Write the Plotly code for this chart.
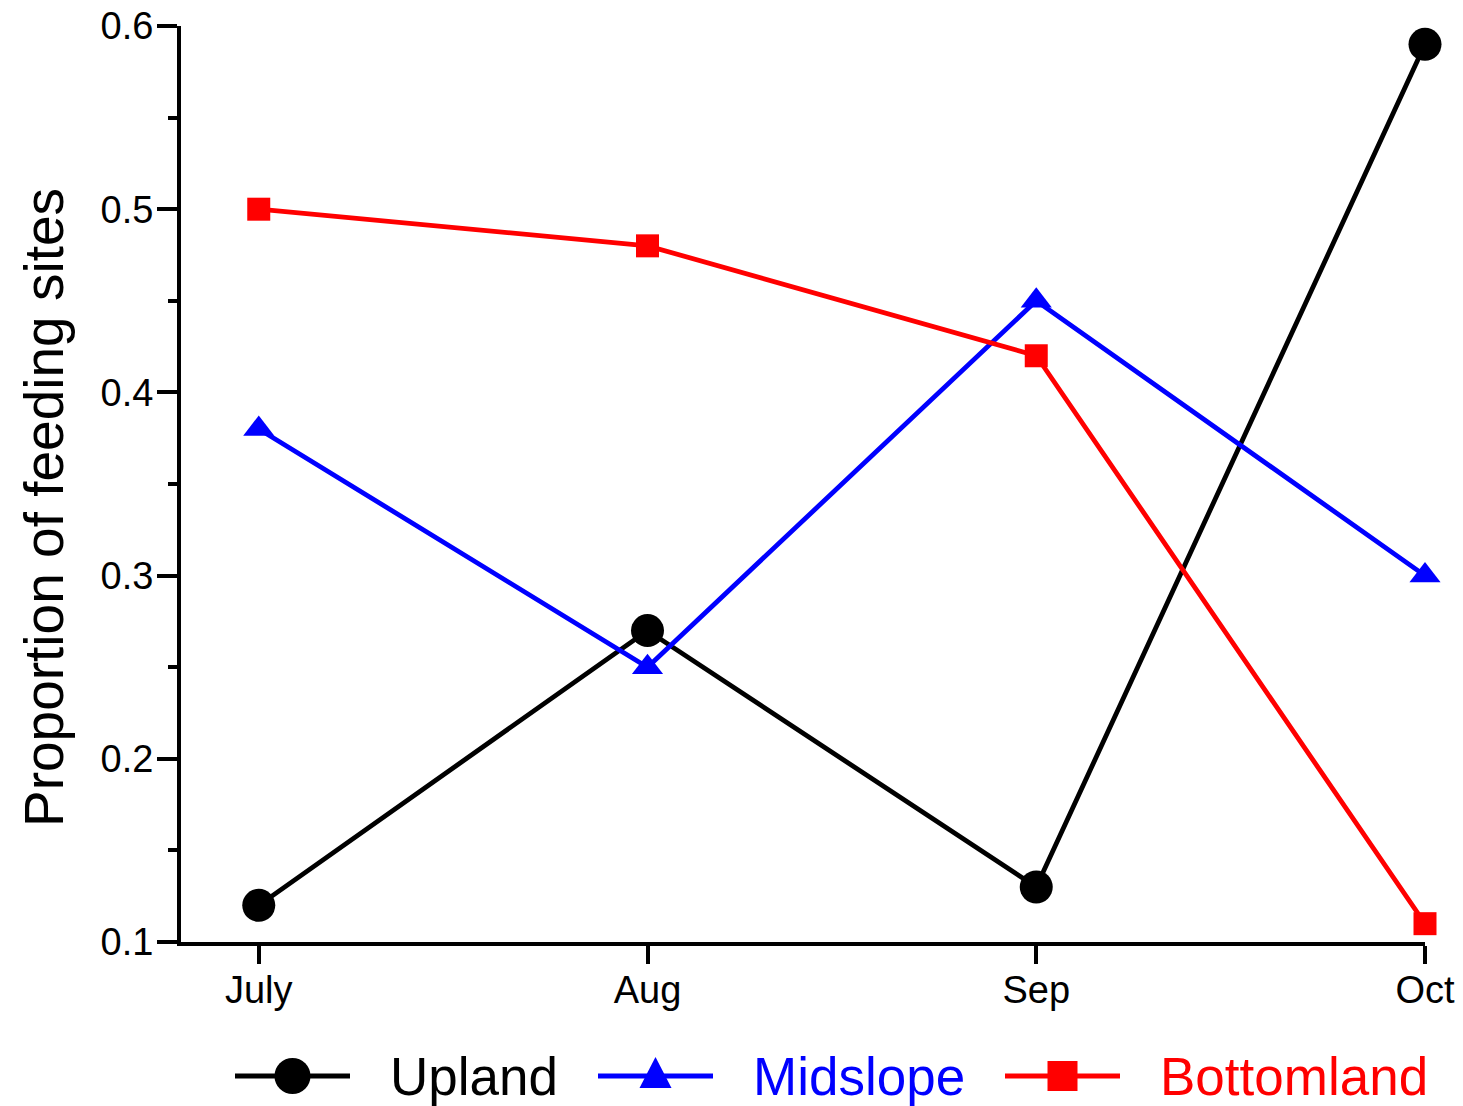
import plotly.graph_objects as go

# Monthly proportion of feeding sites by slope position
months = ["July", "Aug", "Sep", "Oct"]
upland = [0.12, 0.27, 0.13, 0.59]
midslope = [0.38, 0.25, 0.45, 0.30]
bottomland = [0.50, 0.48, 0.42, 0.11]

y_ticks = [0.1, 0.2, 0.3, 0.4, 0.5, 0.6]
FONT = "Liberation Sans, Arial, sans-serif"

W, H = 1463, 1106
ML, MR, MT, MB = 181, 38, 26, 164
PW, PH = W - ML - MR, H - MT - MB

series = [
    ("Upland", upland, "#000000", "circle", 33),
    ("Midslope", midslope, "#0000ff", "triangle-up", 27),
    ("Bottomland", bottomland, "#ff0000", "square", 23),
]

fig = go.Figure()
for name, vals, color, symbol, size in series:
    fig.add_trace(go.Scatter(
        x=list(range(len(months))), y=vals, name=name,
        mode="lines+markers",
        line=dict(color=color, width=4.8),
        marker=dict(symbol=symbol, size=size, color=color),
        cliponaxis=False, showlegend=False,
    ))


# Pixel helpers for the legend row below the plot
def px(x):
    return (x - ML) / PW


def py(y):
    return (H - MB - y) / PH


legend_y = 1076
legend_x = [235, 598, 1005]   # left end of each legend line
line_len = 115
text_gap = 38
shapes = []
annotations = []
for (name, vals, color, symbol, size), x0 in zip(series, legend_x):
    xc = x0 + line_len / 2
    shapes.append(dict(type="line", xref="paper", yref="paper",
                       x0=px(x0), x1=px(x0 + line_len), y0=py(legend_y), y1=py(legend_y),
                       line=dict(color=color, width=4.8)))
    if symbol == "circle":
        r = 18
        shapes.append(dict(type="circle", xref="paper", yref="paper",
                           x0=px(xc - r), x1=px(xc + r), y0=py(legend_y + r), y1=py(legend_y - r),
                           fillcolor=color, line=dict(width=0)))
    elif symbol == "square":
        r = 15
        shapes.append(dict(type="rect", xref="paper", yref="paper",
                           x0=px(xc - r), x1=px(xc + r), y0=py(legend_y + r), y1=py(legend_y - r),
                           fillcolor=color, line=dict(width=0)))
    else:
        hw, top, bot = 16, legend_y - 19, legend_y + 12
        path = (f"M {px(xc - hw)} {py(bot)} L {px(xc + hw)} {py(bot)} "
                f"L {px(xc)} {py(top)} Z")
        shapes.append(dict(type="path", xref="paper", yref="paper", path=path,
                           fillcolor=color, line=dict(width=0)))
    annotations.append(dict(xref="paper", yref="paper", x=px(x0 + line_len + text_gap),
                            y=py(legend_y), xanchor="left", yanchor="middle",
                            text=name, showarrow=False,
                            font=dict(size=53, family=FONT, color=color)))

# Y-axis title, placed as rotated text left of the tick labels
annotations.append(dict(xref="paper", yref="paper", x=px(44), y=py(508),
                        xanchor="center", yanchor="middle", textangle=-90,
                        text="Proportion of feeding sites", showarrow=False,
                        font=dict(size=55, family=FONT, color="black")))

fig.update_layout(
    width=W, height=H,
    paper_bgcolor="white", plot_bgcolor="white",
    margin=dict(l=ML, r=MR, t=MT, b=MB, autoexpand=False),
    font=dict(family=FONT, color="black"),
    showlegend=False,
    shapes=shapes,
    annotations=annotations,
)
fig.update_xaxes(
    range=[-0.2, 3], automargin=False,
    tickmode="array", tickvals=list(range(len(months))), ticktext=months,
    showgrid=False, zeroline=False,
    showline=True, linecolor="black", linewidth=4,
    ticks="outside", ticklen=18, tickwidth=4, tickcolor="black",
    ticklabelstandoff=-7,
    tickfont=dict(size=38, family=FONT),
)
fig.update_yaxes(
    range=[0.1, 0.6], automargin=False,
    tickmode="array", tickvals=y_ticks, ticktext=[f"{v:.1f}" for v in y_ticks],
    showgrid=False, zeroline=False,
    showline=True, linecolor="black", linewidth=4,
    ticks="outside", ticklen=20, tickwidth=4, tickcolor="black",
    ticklabelstandoff=-4,
    tickfont=dict(size=38, family=FONT),
    minor=dict(dtick=0.05, ticks="outside", ticklen=9, tickwidth=4, tickcolor="black", showgrid=False),
)

fig.write_html("out.html")
